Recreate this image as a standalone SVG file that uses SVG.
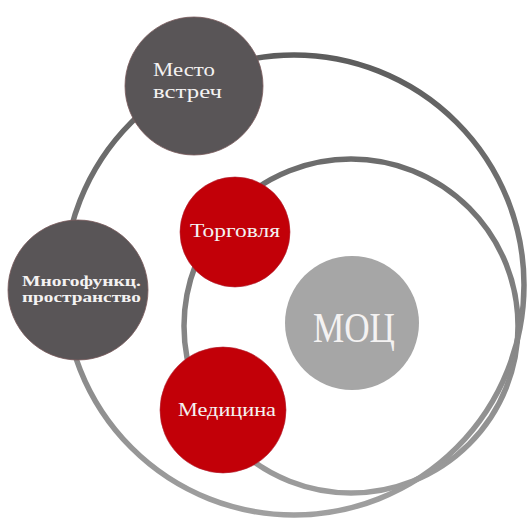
<svg xmlns="http://www.w3.org/2000/svg" width="528" height="522" viewBox="0 0 528 522">
  <defs>
    <linearGradient id="ringGrad" gradientUnits="userSpaceOnUse" x1="0" y1="50" x2="0" y2="518">
      <stop offset="0" stop-color="#5c5c5c"/>
      <stop offset="1" stop-color="#a0a0a0"/>
    </linearGradient>
  </defs>
  <style>
    .ring { fill: none; stroke: url(#ringGrad); stroke-width: 5.5; }
    .dark { fill: #595557; stroke: #7a5a5c; stroke-width: 0.8; }
    .red { fill: #c20008; stroke: #b02030; stroke-width: 0.6; }
    .light { fill: #a6a6a6; }
    .lbl { font-family: "Liberation Serif", "DejaVu Serif", serif; fill: #f4f2f2; }
  </style>
  <rect width="528" height="522" fill="#ffffff"/>
  <g id="connectors">
    <circle class="ring" cx="294" cy="285" r="230"/>
    <circle class="ring" cx="351" cy="326" r="167"/>
  </g>
  <g id="node-mesto">
    <circle class="dark" cx="194" cy="86" r="69"/>
    <text class="lbl" x="153" y="76" font-size="19" textLength="62" lengthAdjust="spacingAndGlyphs">Место</text>
    <text class="lbl" x="153" y="98" font-size="19" textLength="69" lengthAdjust="spacingAndGlyphs">встреч</text>
  </g>
  <g id="node-mnogofunkc">
    <circle class="dark" cx="78" cy="290" r="70"/>
    <text class="lbl" x="22" y="286" font-size="15" font-weight="bold" textLength="119" lengthAdjust="spacingAndGlyphs">Многофункц.</text>
    <text class="lbl" x="22" y="302" font-size="15" font-weight="bold" textLength="119" lengthAdjust="spacingAndGlyphs">пространство</text>
  </g>
  <g id="node-torgovlya">
    <circle class="red" cx="235" cy="232" r="55"/>
    <text class="lbl" x="190" y="237" font-size="19" textLength="90" lengthAdjust="spacingAndGlyphs">Торговля</text>
  </g>
  <g id="node-medicina">
    <circle class="red" cx="223" cy="410" r="63"/>
    <text class="lbl" x="178" y="416" font-size="19" textLength="98" lengthAdjust="spacingAndGlyphs">Медицина</text>
  </g>
  <g id="node-moc">
    <circle class="light" cx="352" cy="323" r="67"/>
    <text class="lbl" x="313" y="342" font-size="42" fill="#ffffff" textLength="82" lengthAdjust="spacingAndGlyphs">МОЦ</text>
  </g>
</svg>
